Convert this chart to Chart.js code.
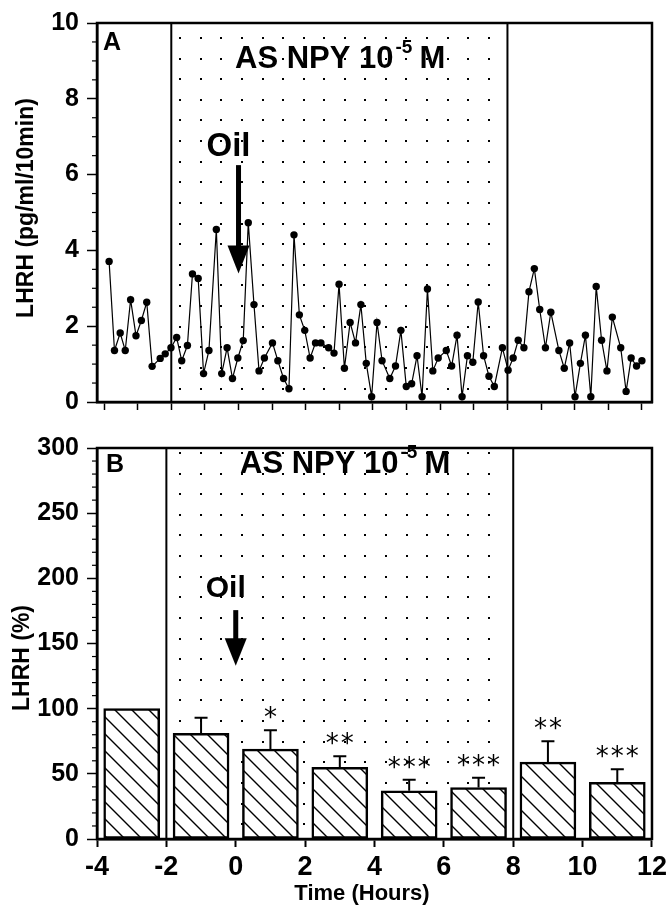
<!DOCTYPE html>
<html>
<head>
<meta charset="utf-8">
<script src="https://cdn.jsdelivr.net/npm/chart.js@4"></script>
<style>
  body { margin: 0; background: #fff; width: 671px; height: 905px; position: relative; overflow: hidden; }
  canvas { position: absolute; left: 0; }
  #panelA { top: 0; }
  #panelB { top: 425px; }
</style>
</head>
<body>
<canvas id="panelA" width="671" height="425"></canvas>
<canvas id="panelB" width="671" height="480"></canvas>
<script>
// panel A: LHRH every 10 min (hours, pg/ml/10min)
const timeA = [-3.85, -3.69, -3.52, -3.37, -3.21, -3.05, -2.89, -2.73, -2.57, -2.33,
  -2.18, -2.01, -1.84, -1.69, -1.52, -1.37, -1.20, -1.04, -0.88, -0.66,
  -0.50, -0.34, -0.18, -0.02, 0.14, 0.29, 0.46, 0.61, 0.77, 1.01,
  1.17, 1.34, 1.50, 1.65, 1.81, 1.97, 2.13, 2.29, 2.45, 2.68,
  2.84, 2.99, 3.15, 3.32, 3.48, 3.64, 3.80, 3.96, 4.12, 4.27,
  4.50, 4.67, 4.83, 4.99, 5.15, 5.31, 5.46, 5.62, 5.78, 5.94,
  6.18, 6.34, 6.50, 6.65, 6.81, 6.97, 7.13, 7.29, 7.45, 7.61,
  7.85, 8.02, 8.17, 8.32, 8.49, 8.64, 8.80, 8.96, 9.13, 9.29,
  9.53, 9.69, 9.85, 10.01, 10.17, 10.32, 10.48, 10.64, 10.80, 10.96,
  11.12, 11.37, 11.53, 11.68, 11.84, 12.00];
const lhrhA = [3.71, 1.36, 1.82, 1.36, 2.70, 1.75, 2.15, 2.63, 0.94, 1.15,
  1.27, 1.43, 1.70, 1.09, 1.49, 3.38, 3.26, 0.75, 1.36, 4.55,
  0.75, 1.43, 0.62, 1.16, 1.62, 4.73, 2.57, 0.82, 1.16, 1.56,
  1.09, 0.62, 0.35, 4.41, 2.30, 1.89, 1.16, 1.56, 1.56, 1.43,
  1.29, 3.11, 0.89, 2.10, 1.56, 2.57, 1.02, 0.14, 2.10, 1.09,
  0.62, 0.95, 1.89, 0.41, 0.48, 1.22, 0.14, 2.98, 0.82, 1.16,
  1.36, 0.95, 1.76, 0.14, 1.22, 1.05, 2.64, 1.22, 0.68, 0.41,
  1.43, 0.84, 1.16, 1.63, 1.43, 2.91, 3.52, 2.44, 1.43, 2.37,
  1.36, 0.89, 1.56, 0.14, 1.02, 1.76, 0.14, 3.05, 1.63, 0.82,
  2.24, 1.43, 0.28, 1.16, 0.95, 1.09];
const hourTicksA = [-4, -3, -2, -1, 0, 1, 2, 3, 4, 5, 6, 7, 8, 9, 10, 11, 12];

// panel B: 2-h means (% of pre-treatment)
const barTimes = [-3, -1, 1, 3, 5, 7, 9, 11];
const barMeans = [100, 81, 69, 55, 37, 39.5, 59, 43.5];
const barSem = [0, 12, 14.4, 8.5, 8.4, 7.5, 16, 10];
const barStars = ['', '', '*', '**', '***', '***', '**', '***'];

const treatStart = -2, treatEnd = 8;
const FONT = "'Liberation Sans', Arial, sans-serif";

Chart.defaults.font.family = FONT;
Chart.defaults.color = '#000';

function hatch(ctx) {
  const s = 17;
  const tile = document.createElement('canvas');
  tile.width = s; tile.height = s;
  const c = tile.getContext('2d');
  c.fillStyle = '#fff';
  c.fillRect(0, 0, s, s);
  c.strokeStyle = '#000';
  c.lineWidth = 1.4;
  c.beginPath();
  c.moveTo(-3, -3); c.lineTo(s + 3, s + 3);
  c.moveTo(-3, s - 3); c.lineTo(3, s + 3);
  c.moveTo(s - 3, -3); c.lineTo(s + 3, 3);
  c.stroke();
  return ctx.createPattern(tile, 'repeat');
}

function drawTitle(ctx, x, base) {
  ctx.textAlign = 'left';
  ctx.textBaseline = 'alphabetic';
  ctx.font = 'bold 31px ' + FONT;
  ctx.fillText('AS NPY 10', x, base);
  const w = ctx.measureText('AS NPY 10').width;
  ctx.font = 'bold 19px ' + FONT;
  ctx.fillText('-5', x + w + 2, base - 15);
  const w2 = ctx.measureText('-5').width;
  ctx.font = 'bold 31px ' + FONT;
  ctx.fillText('M', x + w + w2 + 9, base);
}

function drawArrow(ctx, x, yTop, yHead, yTip) {
  ctx.fillRect(x - 2.5, yTop, 5, yHead - yTop + 1);
  ctx.beginPath();
  ctx.moveTo(x - 11, yHead);
  ctx.lineTo(x + 11, yHead);
  ctx.lineTo(x, yTip);
  ctx.closePath();
  ctx.fill();
}

function decor(o) {
  return {
    id: 'decor',
    beforeDatasetsDraw(chart) {
      const { ctx, chartArea: a, scales: { x } } = chart;
      const x0 = x.getPixelForValue(treatStart), x1 = x.getPixelForValue(treatEnd);
      ctx.save();
      ctx.fillStyle = '#000';
      for (let px = x0 + o.dotDx; px < x1 - 4; px += 20.56) {
        for (let py = a.top + o.dotDy; py < a.bottom - 3; py += 20.62) {
          ctx.fillRect(Math.round(px) - 1, Math.round(py) - 1, 2, 2);
        }
      }
      ctx.restore();
    },
    afterDraw(chart) {
      const { ctx, chartArea: a, scales: { x, y } } = chart;
      ctx.save();
      ctx.strokeStyle = '#000';
      ctx.fillStyle = '#000';
      ctx.lineWidth = 2.5;
      ctx.strokeRect(a.left, a.top, a.right - a.left, a.bottom - a.top);
      ctx.lineWidth = 2;
      [treatStart, treatEnd].forEach(t => {
        const px = x.getPixelForValue(t);
        ctx.beginPath();
        ctx.moveTo(px, a.top);
        ctx.lineTo(px, a.bottom);
        ctx.stroke();
      });
      // minor ticks
      ctx.lineWidth = 1.2;
      for (let v = y.min; v <= y.max + 1e-9; v += o.minor) {
        if (Math.abs(v / o.major - Math.round(v / o.major)) < 1e-6) continue;
        const py = y.getPixelForValue(v);
        ctx.beginPath();
        ctx.moveTo(a.left - 5, py);
        ctx.lineTo(a.left, py);
        ctx.stroke();
      }
      // panel letter + title
      ctx.font = 'bold 25px ' + FONT;
      ctx.textAlign = 'left';
      ctx.fillText(o.letter, o.letterX, o.letterY);
      drawTitle(ctx, o.titleX, o.titleY);
      // Oil arrow
      const ax = x.getPixelForValue(0);
      ctx.font = 'bold ' + o.oilSize + 'px ' + FONT;
      ctx.textAlign = 'center';
      ctx.fillText('Oil', ax - 10, y.getPixelForValue(o.oil[0]));
      drawArrow(ctx, ax, y.getPixelForValue(o.oil[1]), y.getPixelForValue(o.oil[2]), y.getPixelForValue(o.oil[3]));
      // y title
      ctx.save();
      ctx.translate(o.yTitleX, o.yTitleY);
      ctx.rotate(-Math.PI / 2);
      ctx.font = 'bold 23px ' + FONT;
      ctx.textAlign = 'center';
      ctx.textBaseline = 'middle';
      ctx.fillText(o.yTitle, 0, 0);
      ctx.restore();
      if (o.after) o.after(chart);
      ctx.restore();
    }
  };
}

const axisStyle = {
  border: { display: true, color: '#000', width: 2.5 },
};

new Chart(document.getElementById('panelA'), {
  type: 'line',
  data: {
    datasets: [{
      data: timeA.map((t, i) => ({ x: t, y: lhrhA[i] })),
      borderColor: '#000',
      borderWidth: 1.2,
      pointRadius: 3.7,
      pointBackgroundColor: '#000',
      pointBorderColor: '#000',
      pointBorderWidth: 0,
      tension: 0,
    }]
  },
  options: {
    responsive: false,
    animation: false,
    events: [],
    layout: { padding: { top: 18, right: 19, left: 0, bottom: 0 } },
    plugins: { legend: { display: false }, tooltip: { enabled: false } },
    scales: {
      x: {
        type: 'linear', min: -4.21, max: 12.3,
        ...axisStyle,
        grid: { drawOnChartArea: false, drawTicks: true, tickLength: 8, tickColor: '#000', tickWidth: 1.5 },
        ticks: { display: false },
        afterBuildTicks: s => { s.ticks = hourTicksA.map(v => ({ value: v })); },
        afterFit: s => { s.height = 12; },
      },
      y: {
        min: 0, max: 10,
        ...axisStyle,
        grid: { drawOnChartArea: false, drawTicks: true, tickLength: 10, tickColor: '#000', tickWidth: 1.5 },
        ticks: { stepSize: 2, padding: 8, font: { size: 25, weight: 'bold' } },
        afterFit: s => { s.width = 97; },
      }
    }
  },
  plugins: [decor({
    dotDx: 9, dotDy: 15, minor: 0.5, major: 2,
    letter: 'A', letterX: 103, letterY: 50,
    titleX: 235, titleY: 68,
    oilSize: 33, oil: [6.48, 6.25, 4.13, 3.39],
    yTitle: 'LHRH (pg/ml/10min)', yTitleX: 27, yTitleY: 208,
  })]
});

new Chart(document.getElementById('panelB'), {
  type: 'bar',
  data: {
    datasets: [{
      data: barTimes.map((t, i) => ({ x: t, y: barMeans[i] })),
      backgroundColor: ctx => hatch(ctx.chart.ctx),
      borderColor: '#000',
      borderWidth: 2.5,
      borderSkipped: false,
      barThickness: 56,
    }]
  },
  options: {
    responsive: false,
    animation: false,
    events: [],
    layout: { padding: { top: 17, right: 15, left: 0, bottom: 0 } },
    plugins: { legend: { display: false }, tooltip: { enabled: false } },
    scales: {
      x: {
        type: 'linear', min: -4, max: 12, offset: false,
        ...axisStyle,
        grid: { offset: false, drawOnChartArea: false, drawTicks: true, tickLength: 8, tickColor: '#000', tickWidth: 2 },
        ticks: { stepSize: 2, padding: 4, font: { size: 27, weight: 'bold' } },
        afterFit: s => { s.height = 66; },
      },
      y: {
        min: 0, max: 300,
        ...axisStyle,
        grid: { drawOnChartArea: false, drawTicks: true, tickLength: 10, tickColor: '#000', tickWidth: 1.5 },
        ticks: { stepSize: 50, padding: 8, font: { size: 25, weight: 'bold' } },
        afterFit: s => { s.width = 97; },
      }
    }
  },
  plugins: [decor({
    dotDx: 14, dotDy: 5, minor: 10, major: 50,
    letter: 'B', letterX: 106, letterY: 47,
    titleX: 240, titleY: 48,
    oilSize: 30, oil: [186, 175.6, 154, 133],
    yTitle: 'LHRH (%)', yTitleX: 23, yTitleY: 233,
    after(chart) {
      const { ctx, scales: { y } } = chart;
      const bars = chart.getDatasetMeta(0).data;
      ctx.lineWidth = 2;
      bars.forEach((b, i) => {
        if (barSem[i] > 0) {
          const top = y.getPixelForValue(barMeans[i] + barSem[i]);
          ctx.beginPath();
          ctx.moveTo(b.x, b.y);
          ctx.lineTo(b.x, top);
          ctx.moveTo(b.x - 6.5, top);
          ctx.lineTo(b.x + 6.5, top);
          ctx.stroke();
        }
        const n = barStars[i].length;
        if (n) {
          const ty = y.getPixelForValue(barMeans[i] + barSem[i]) - 18;
          ctx.font = '26px "DejaVu Sans", sans-serif';
          ctx.textAlign = 'center';
          ctx.textBaseline = 'alphabetic';
          for (let k = 0; k < n; k++) {
            ctx.fillText('*', b.x + (k - (n - 1) / 2) * 15, ty + 14);
          }
        }
      });
      ctx.font = 'bold 22px ' + FONT;
      ctx.textAlign = 'center';
      ctx.textBaseline = 'alphabetic';
      ctx.fillText('Time (Hours)', 362, 475);
    }
  })]
});
</script>
</body>
</html>
